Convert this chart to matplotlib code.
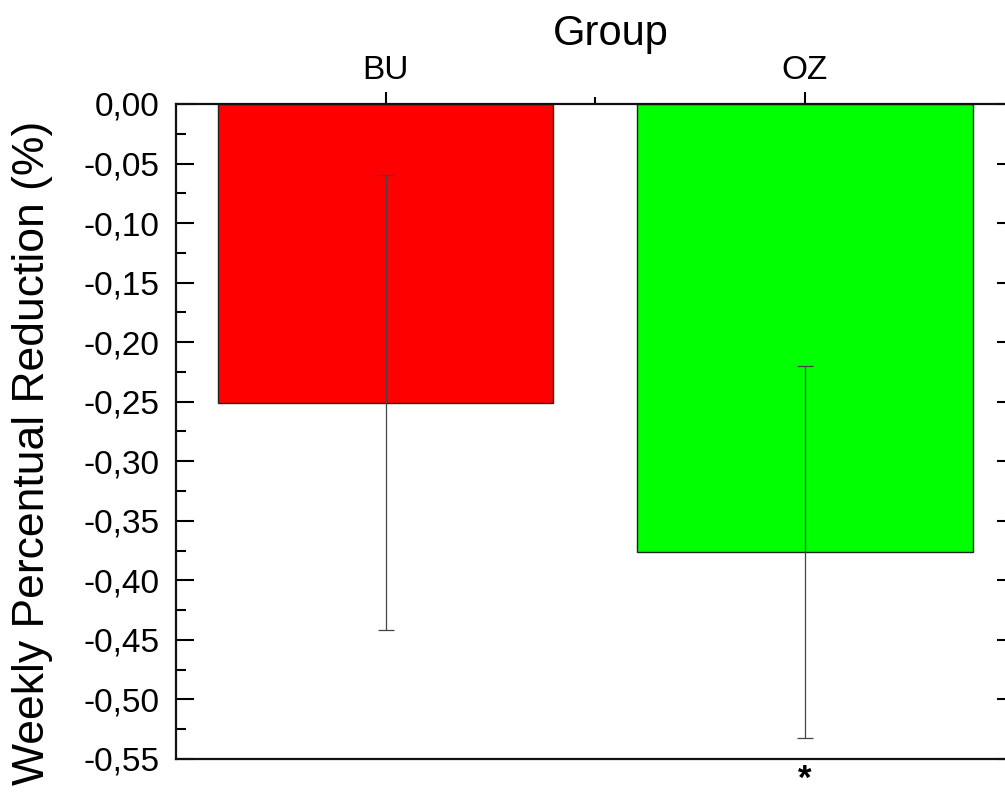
import matplotlib
matplotlib.use("Agg")
import matplotlib.pyplot as plt
from matplotlib.ticker import FixedLocator, FuncFormatter, MultipleLocator

plt.rcParams['font.family'] = ['Liberation Sans', 'DejaVu Sans']

# Data
groups = ['BU', 'OZ']
mean_reduction = [-0.251, -0.376]
sd_reduction = [0.191, 0.156]
bar_colors = ['#FF0000', '#00FF00']
ytick_values = [0.00, -0.05, -0.10, -0.15, -0.20, -0.25, -0.30,
                -0.35, -0.40, -0.45, -0.50, -0.55]

fig = plt.figure(figsize=(10.05, 7.95), dpi=100)
ax = fig.add_axes([0.1751, 0.0453, 0.8344, 0.8239])

x = list(range(len(groups)))
ax.bar(x, mean_reduction, width=0.8, color=bar_colors,
       edgecolor='#222222', linewidth=1.0, zorder=2)
ax.errorbar(x, mean_reduction, yerr=sd_reduction, fmt='none',
            ecolor='#444444', elinewidth=0.9, capsize=6, capthick=0.9,
            zorder=3)

ax.set_xlim(-0.5, 1.5)
ax.set_ylim(-0.55, 0.0)

# Category axis on top
ax.xaxis.tick_top()
ax.xaxis.set_label_position('top')
ax.set_xticks(x)
ax.set_xticklabels(groups, fontsize=24)
ax.xaxis.set_minor_locator(FixedLocator([0.5]))
ax.tick_params(axis='x', which='major', direction='out', length=9,
               width=1.5, pad=4, top=True, bottom=False)
ax.tick_params(axis='x', which='minor', direction='out', length=5,
               width=1.5, top=True, bottom=False)
ax.set_xlabel('Group', fontsize=30)
ax.xaxis.set_label_coords(0.518, 1.0 + 59 / 655)

# Value axis
ax.yaxis.set_major_locator(FixedLocator(ytick_values))
ax.yaxis.set_minor_locator(MultipleLocator(0.025))


def comma_fmt(v, pos):
    s = f"{v:.2f}".replace('.', ',')
    return "0,00" if s == "-0,00" else s


ax.yaxis.set_major_formatter(FuncFormatter(comma_fmt))
ax.tick_params(axis='y', which='major', direction='in', length=13,
               width=1.5, labelsize=24, pad=12, left=True, right=True)
ax.tick_params(axis='y', which='minor', direction='in', length=7,
               width=1.5, left=True, right=True)
ax.set_ylabel('Weekly Percentual Reduction (%)', fontsize=32)
ax.yaxis.set_label_coords(-0.147, 0.468)

for side in ('left', 'right', 'top', 'bottom'):
    ax.spines[side].set_linewidth(1.6)
    ax.spines[side].set_color('#111111')

# Significance marker under OZ
ax.annotate('*', xy=(1, 0), xycoords=('data', 'axes fraction'),
            xytext=(0, -3), textcoords='offset points',
            ha='center', va='top', fontsize=25, fontweight='bold')

fig.savefig('out.png', dpi=100)
